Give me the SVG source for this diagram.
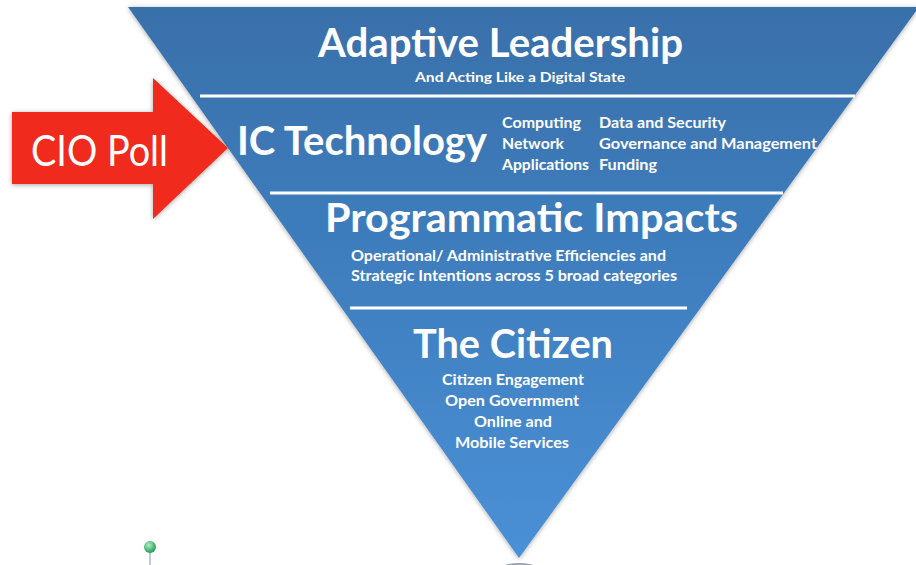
<svg xmlns="http://www.w3.org/2000/svg" width="916" height="565" viewBox="0 0 916 565">
  <defs>
    <linearGradient id="tri-fill" x1="0" y1="0" x2="0" y2="1">
      <stop offset="0" stop-color="#3970aa"/>
      <stop offset="0.5" stop-color="#3f7fc0"/>
      <stop offset="1" stop-color="#4a90d6"/>
    </linearGradient>
    <filter id="soft" x="-5%" y="-5%" width="110%" height="110%">
      <feGaussianBlur in="SourceAlpha" stdDeviation="2.5"/>
      <feOffset dx="0" dy="1" result="b"/>
      <feComponentTransfer><feFuncA type="linear" slope="0.35"/></feComponentTransfer>
      <feMerge><feMergeNode/><feMergeNode in="SourceGraphic"/></feMerge>
    </filter>
    <radialGradient id="pin" cx="0.4" cy="0.35" r="0.7">
      <stop offset="0" stop-color="#b9ecc9"/>
      <stop offset="0.6" stop-color="#4dbb7a"/>
      <stop offset="1" stop-color="#2e8f57"/>
    </radialGradient>
  </defs>
  <style>
    text { fill: #ffffff; font-family: Lato, "Open Sans", "Liberation Sans", sans-serif; }
    .title { font-weight: 700; font-size: 40px; }
    .small { font-weight: 700; font-size: 15.5px; }
    .sub { font-weight: 700; font-size: 14px; }
    .rule { stroke: #ffffff; stroke-width: 3; stroke-linecap: butt; }
  </style>

  <rect width="916" height="565" fill="#ffffff"/>

  <!-- inverted pyramid -->
  <g id="pyramid">
    <polygon points="128,7 919,7 519,558" fill="url(#tri-fill)" filter="url(#soft)"/>
  </g>

  <!-- white rules separating the tiers -->
  <g id="connectors">
    <line class="rule" x1="200" y1="96" x2="855" y2="96"/>
    <line class="rule" x1="270" y1="193" x2="783" y2="193"/>
    <line class="rule" x1="350" y1="308" x2="687" y2="308"/>
  </g>

  <g id="tier-leadership">
    <text class="title" x="318" y="57" textLength="365" lengthAdjust="spacingAndGlyphs">Adaptive Leadership</text>
    <text class="sub" x="415" y="82" textLength="210" lengthAdjust="spacingAndGlyphs">And Acting Like a Digital State</text>
  </g>

  <g id="tier-technology">
    <text class="title" x="237" y="155" textLength="250" lengthAdjust="spacingAndGlyphs">IC Technology</text>
    <text class="small" x="502" y="128" textLength="79" lengthAdjust="spacingAndGlyphs">Computing</text>
    <text class="small" x="502" y="149" textLength="62" lengthAdjust="spacingAndGlyphs">Network</text>
    <text class="small" x="502" y="170" textLength="87" lengthAdjust="spacingAndGlyphs">Applications</text>
    <text class="small" x="599" y="128" textLength="127" lengthAdjust="spacingAndGlyphs">Data and Security</text>
    <text class="small" x="599" y="149" textLength="218" lengthAdjust="spacingAndGlyphs">Governance and Management</text>
    <text class="small" x="599" y="170" textLength="58" lengthAdjust="spacingAndGlyphs">Funding</text>
  </g>

  <g id="tier-programmatic">
    <text class="title" x="325" y="232" textLength="413" lengthAdjust="spacingAndGlyphs">Programmatic Impacts</text>
    <text class="small" x="351" y="261" textLength="315" lengthAdjust="spacingAndGlyphs">Operational/ Administrative Efficiencies and</text>
    <text class="small" x="351" y="281" textLength="326" lengthAdjust="spacingAndGlyphs">Strategic Intentions across 5 broad categories</text>
  </g>

  <g id="tier-citizen">
    <text class="title" x="413" y="358" textLength="200" lengthAdjust="spacingAndGlyphs">The Citizen</text>
    <text class="small" x="442" y="385" textLength="142" lengthAdjust="spacingAndGlyphs">Citizen Engagement</text>
    <text class="small" x="445" y="406" textLength="134" lengthAdjust="spacingAndGlyphs">Open Government</text>
    <text class="small" x="474" y="427" textLength="78" lengthAdjust="spacingAndGlyphs">Online and</text>
    <text class="small" x="455" y="448" textLength="114" lengthAdjust="spacingAndGlyphs">Mobile Services</text>
  </g>

  <!-- red call-out arrow -->
  <g id="cio-poll">
    <polygon points="12,112 153,112 153,78 228,148 153,219 153,184 12,184" fill="#f02b1c" filter="url(#soft)"/>
    <text x="31" y="166" font-size="42" font-weight="400" textLength="137" lengthAdjust="spacingAndGlyphs">CIO Poll</text>
  </g>

  <!-- pin marker -->
  <g id="pin-marker">
    <line x1="150" y1="552" x2="150" y2="565" stroke="#a9b8d0" stroke-width="1.5"/>
    <circle cx="150" cy="547" r="6" fill="url(#pin)"/>
  </g>
  <g id="tip-marker">
    <ellipse cx="519" cy="566" rx="15" ry="3" fill="#9aa3ad"/>
  </g>
</svg>
